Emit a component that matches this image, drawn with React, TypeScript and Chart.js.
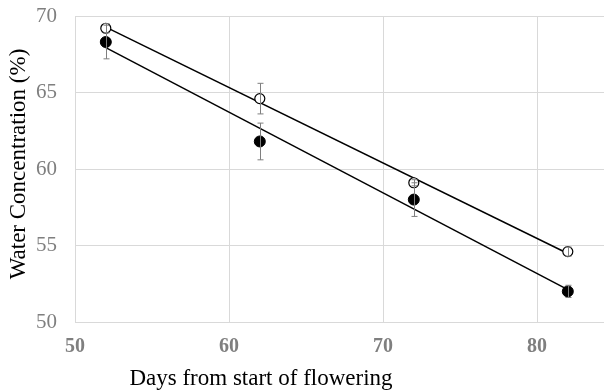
import React, { useEffect, useRef } from "react";
import { Chart, registerables } from "chart.js";

Chart.register(...registerables);

// Days from start of flowering
const days = [52, 62, 72, 82];
// Open-circle series: mean water concentration (%) and its error
const openValues = [69.2, 64.6, 59.1, 54.6];
const openErrors = [0.3, 1.0, 0.2, 0.3];
// Filled-circle series
const filledValues = [68.3, 61.8, 58.0, 52.0];
const filledErrors = [1.1, 1.2, 1.1, 0.4];

const xMin = 50;
const xMax = 84.35;
const xTicks = [50, 60, 70, 80];
const yTicks = [50, 55, 60, 65, 70];

const xTitle = "Days from start of flowering";
const yTitle = "Water Concentration (%)";

const SERIF = "'Liberation Serif', 'Times New Roman', serif";
const GRID = "#d9d9d9";
const TICK_COLOR = "#7f7f7f";
const CLEAR = "rgba(0,0,0,0)";

// Least-squares line through the points, evaluated at the first and last x
function trend(xs: number[], ys: number[]) {
  const n = xs.length;
  const mx = xs.reduce((a, b) => a + b, 0) / n;
  const my = ys.reduce((a, b) => a + b, 0) / n;
  let sxy = 0;
  let sxx = 0;
  for (let i = 0; i < n; i++) {
    sxy += (xs[i] - mx) * (ys[i] - my);
    sxx += (xs[i] - mx) * (xs[i] - mx);
  }
  const slope = sxy / sxx;
  const x0 = xs[0];
  const x1 = xs[n - 1];
  return [
    { x: x0, y: my + slope * (x0 - mx) },
    { x: x1, y: my + slope * (x1 - mx) },
  ];
}

const errorBars = {
  id: "errorBars",
  afterDatasetsDraw(chart: any) {
    const { ctx, scales } = chart;
    const xs = scales.x;
    const ys = scales.y;
    const groups = [
      { values: openValues, errors: openErrors },
      { values: filledValues, errors: filledErrors },
    ];
    ctx.save();
    ctx.strokeStyle = "#7f7f7f";
    ctx.lineWidth = 1;
    groups.forEach((g) => {
      days.forEach((d, i) => {
        const px = Math.round(xs.getPixelForValue(d)) + 0.5;
        const top = ys.getPixelForValue(g.values[i] + g.errors[i]);
        const bot = ys.getPixelForValue(g.values[i] - g.errors[i]);
        ctx.beginPath();
        ctx.moveTo(px, top);
        ctx.lineTo(px, bot);
        ctx.moveTo(px - 3, top);
        ctx.lineTo(px + 3, top);
        ctx.moveTo(px - 3, bot);
        ctx.lineTo(px + 3, bot);
        ctx.stroke();
      });
    });
    ctx.restore();
  },
};

const axisTitles = {
  id: "axisTitles",
  afterDraw(chart: any) {
    const { ctx } = chart;
    ctx.save();
    ctx.fillStyle = "#000";
    ctx.font = `23px ${SERIF}`;
    ctx.textAlign = "center";
    ctx.textBaseline = "middle";
    ctx.fillText(xTitle, 261, 379);
    ctx.translate(19, 164);
    ctx.rotate(-Math.PI / 2);
    ctx.fillText(yTitle, 0, 0);
    ctx.restore();
  },
};

export default function App() {
  const ref = useRef<HTMLCanvasElement>(null);

  useEffect(() => {
    document.body.style.margin = "0";
    const canvas = ref.current;
    if (!canvas) return;
    const chart = new Chart(canvas, {
      type: "scatter",
      data: {
        datasets: [
          {
            label: "open",
            data: days.map((d, i) => ({ x: d, y: openValues[i] })),
            pointRadius: 5,
            pointBackgroundColor: "#fff",
            pointBorderColor: "#000",
            pointBorderWidth: 1.2,
            showLine: false,
            order: 1,
          },
          {
            label: "filled",
            data: days.map((d, i) => ({ x: d, y: filledValues[i] })),
            pointRadius: 5.5,
            pointBackgroundColor: "#000",
            pointBorderColor: "#000",
            pointBorderWidth: 1,
            showLine: false,
            order: 1,
          },
          {
            type: "line",
            label: "open trend",
            data: trend(days, openValues),
            borderColor: "#000",
            borderWidth: 1.5,
            pointRadius: 0,
            fill: false,
            order: 2,
          },
          {
            type: "line",
            label: "filled trend",
            data: trend(days, filledValues),
            borderColor: "#000",
            borderWidth: 1.5,
            pointRadius: 0,
            fill: false,
            order: 2,
          },
        ],
      } as any,
      options: {
        responsive: false,
        animation: false,
        layout: { autoPadding: false, padding: { top: 16, right: 0, left: 0, bottom: 0 } },
        plugins: {
          legend: { display: false },
          tooltip: { enabled: false },
        },
        scales: {
          x: {
            type: "linear",
            min: xMin,
            max: xMax,
            // the axis end gets an unlabeled, invisible tick so no label overhang is reserved
            afterBuildTicks: (s: any) => {
              s.ticks = [...xTicks, xMax].map((v) => ({ value: v }));
            },
            afterFit: (s: any) => {
              s.height = 70;
              s.paddingLeft = 0;
              s.paddingRight = 0;
            },
            grid: {
              color: (c: any) => (c.tick && xTicks.includes(c.tick.value) ? GRID : CLEAR),
              lineWidth: 1,
              drawTicks: true,
              tickLength: 13,
              tickColor: CLEAR,
            },
            border: { color: GRID, width: 1 },
            ticks: {
              padding: 0,
              color: TICK_COLOR,
              font: { family: SERIF, size: 20, weight: "bold" },
              callback: (v: any) => (xTicks.includes(v) ? String(v) : ""),
            },
          },
          y: {
            type: "linear",
            min: 50,
            max: 70,
            afterBuildTicks: (s: any) => {
              s.ticks = yTicks.map((v) => ({ value: v }));
            },
            afterFit: (s: any) => {
              s.width = 75;
              s.paddingTop = 0;
              s.paddingBottom = 0;
            },
            grid: { color: GRID, lineWidth: 1, drawTicks: false },
            border: { color: GRID, width: 1 },
            ticks: {
              padding: 18,
              color: TICK_COLOR,
              font: { family: SERIF, size: 21 },
            },
          },
        },
      } as any,
      plugins: [errorBars, axisTitles],
    });
    return () => chart.destroy();
  }, []);

  return (
    <div style={{ width: 604, height: 392 }}>
      <canvas ref={ref} width={604} height={392} />
    </div>
  );
}
